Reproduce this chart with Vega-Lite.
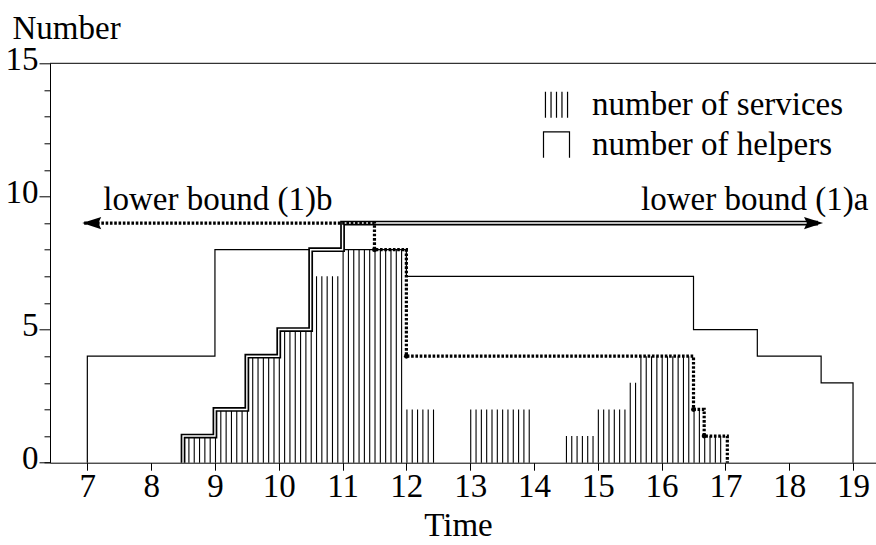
{
  "$schema": "https://vega.github.io/schema/vega-lite/v6.json",
  "width": 826,
  "height": 399.4,
  "autosize": {"type": "none"},
  "padding": {"left": 50, "top": 63.3, "right": 0, "bottom": 82.3},
  "background": "white",
  "config": {
    "view": {"stroke": null},
    "font": "Liberation Serif",
    "axis": {
      "domainColor": "black",
      "domainWidth": 1,
      "tickColor": "black",
      "tickWidth": 1,
      "labelColor": "black",
      "titleColor": "black",
      "labelFont": "Liberation Serif",
      "titleFont": "Liberation Serif",
      "labelFontSize": 33,
      "titleFontSize": 33,
      "titleFontWeight": "normal",
      "labelOverlap": false,
      "grid": false
    }
  },
  "datasets": {
    "services": [
      {"start": 8.5, "end": 9, "count": 1},
      {"start": 9, "end": 9.5, "count": 2},
      {"start": 9.5, "end": 10, "count": 4},
      {"start": 10, "end": 10.5, "count": 5},
      {"start": 10.5, "end": 11, "count": 7},
      {"start": 11, "end": 12, "count": 8},
      {"start": 12, "end": 12.5, "count": 2},
      {"start": 13, "end": 14, "count": 2},
      {"start": 14.5, "end": 15, "count": 1},
      {"start": 15, "end": 15.5, "count": 2},
      {"start": 15.5, "end": 15.667, "count": 3},
      {"start": 15.667, "end": 16.5, "count": 4},
      {"start": 16.5, "end": 16.667, "count": 2},
      {"start": 16.667, "end": 17, "count": 1}
    ],
    "helpers": [
      {"t": 7, "n": 0}, {"t": 7, "n": 4}, {"t": 9, "n": 8}, {"t": 12, "n": 7},
      {"t": 16.5, "n": 5}, {"t": 17.5, "n": 4}, {"t": 18.5, "n": 3}, {"t": 19, "n": 0}
    ],
    "boundA": [
      {"t": 8.5, "n": 0}, {"t": 8.5, "n": 1}, {"t": 9, "n": 2}, {"t": 9.5, "n": 4},
      {"t": 10, "n": 5}, {"t": 10.5, "n": 8}, {"t": 11, "n": 9}, {"t": 18.45, "n": 9}
    ],
    "boundB": [
      {"t": 6.95, "n": 9}, {"t": 11.5, "n": 8}, {"t": 12, "n": 4},
      {"t": 16.5, "n": 2}, {"t": 16.667, "n": 1}, {"t": 17.03, "n": 0}
    ],
    "corners": [
      {"t": 11.5, "n": 8}, {"t": 12, "n": 4}, {"t": 16.5, "n": 2}, {"t": 16.667, "n": 1}
    ],
    "arrowA": [{"t": 18.53, "n": 9}],
    "arrowB": [{"t": 6.92, "n": 9}],
    "labelA": [{"t": 19.24, "n": 9.48, "label": "lower bound (1)a"}],
    "labelB": [{"t": 7.25, "n": 9.48, "label": "lower bound (1)b"}],
    "series": [{"series": "number of services"}, {"series": "number of helpers"}],
    "top": [{"n": 15}]
  },
  "resolve": {"scale": {"y": "independent"}},
  "layer": [
    {
      "data": {"name": "services"},
      "mark": {"type": "rule", "color": "black", "strokeDash": [1.1, 4.218], "strokeCap": "butt"},
      "encoding": {
        "x": {
          "field": "start", "type": "quantitative",
          "scale": {"domain": [6.415, 19.36], "nice": false, "zero": false},
          "axis": {
            "values": [7, 8, 9, 10, 11, 12, 13, 14, 15, 16, 17, 18, 19],
            "format": "d",
            "tickSize": 7.5,
            "labelBaseline": "alphabetic",
            "labelPadding": 26,
            "labelFlush": false,
            "labelOverlap": false,
            "title": "Time",
            "titleX": 408,
            "titleY": 72.3,
            "titleAlign": "center",
            "titleBaseline": "alphabetic"
          }
        },
        "x2": {"field": "end"},
        "y": {"field": "count", "type": "quantitative", "scale": {"domain": [0, 30], "nice": false, "zero": true}, "axis": null},
        "strokeWidth": {"field": "count", "type": "quantitative", "scale": {"domain": [0, 15], "range": [0, 399.4], "zero": true}, "legend": null}
      }
    },
    {
      "resolve": {"axis": {"y": "independent"}},
      "layer": [
        {
          "layer": [
            {
              "data": {"name": "helpers"},
              "mark": {"type": "line", "interpolate": "step-after", "color": "black", "strokeWidth": 1.2},
              "encoding": {
                "x": {"field": "t", "type": "quantitative", "scale": {"domain": [6.415, 19.36], "nice": false, "zero": false}},
                "y": {
                  "field": "n", "type": "quantitative",
                  "scale": {"domain": [0, 15], "nice": false, "zero": true},
                  "axis": {
                    "orient": "left",
                    "values": [0, 5, 10, 15],
                    "format": "d",
                    "tickSize": 11,
                    "labelPadding": 1,
                    "labelBaseline": "alphabetic",
                    "labelOffset": 6,
                    "labelOverlap": false,
                    "labelFlush": false,
                    "title": "Number",
                    "titleAngle": 0,
                    "titleAlign": "left",
                    "titleBaseline": "alphabetic",
                    "titleX": -38,
                    "titleY": -25.3
                  }
                }
              }
            },
            {
              "data": {"name": "boundA"},
              "mark": {"type": "line", "interpolate": "step-after", "color": "black", "strokeWidth": 4.8, "strokeJoin": "miter", "strokeCap": "butt"},
              "encoding": {
                "x": {"field": "t", "type": "quantitative"},
                "y": {"field": "n", "type": "quantitative"}
              }
            },
            {
              "data": {"name": "boundA"},
              "mark": {"type": "line", "interpolate": "step-after", "color": "white", "strokeWidth": 1.4, "strokeJoin": "miter", "strokeCap": "butt"},
              "encoding": {
                "x": {"field": "t", "type": "quantitative"},
                "y": {"field": "n", "type": "quantitative"}
              }
            },
            {
              "data": {"name": "boundB"},
              "mark": {"type": "line", "interpolate": "step-after", "color": "black", "strokeWidth": 3.2, "strokeDash": [2.6, 1.7], "strokeCap": "butt"},
              "encoding": {
                "x": {"field": "t", "type": "quantitative"},
                "y": {"field": "n", "type": "quantitative"}
              }
            },
            {
              "data": {"name": "corners"},
              "mark": {"type": "point", "shape": "circle", "filled": true, "color": "black", "size": 24, "opacity": 1},
              "encoding": {
                "x": {"field": "t", "type": "quantitative"},
                "y": {"field": "n", "type": "quantitative"}
              }
            },
            {
              "data": {"name": "arrowA"},
              "mark": {"type": "point", "shape": "M0,0L-2,-0.65L-1.7,0L-2,0.65Z", "filled": true, "color": "black", "size": 361, "opacity": 1},
              "encoding": {
                "x": {"field": "t", "type": "quantitative"},
                "y": {"field": "n", "type": "quantitative"}
              }
            },
            {
              "data": {"name": "arrowB"},
              "mark": {"type": "point", "shape": "M0,0L2,-0.65L1.7,0L2,0.65Z", "filled": true, "color": "black", "size": 361, "opacity": 1},
              "encoding": {
                "x": {"field": "t", "type": "quantitative"},
                "y": {"field": "n", "type": "quantitative"}
              }
            },
            {
              "data": {"name": "labelA"},
              "mark": {"type": "text", "align": "right", "baseline": "alphabetic", "font": "Liberation Serif", "fontSize": 33, "color": "black"},
              "encoding": {
                "x": {"field": "t", "type": "quantitative"},
                "y": {"field": "n", "type": "quantitative"},
                "text": {"field": "label"}
              }
            },
            {
              "data": {"name": "labelB"},
              "mark": {"type": "text", "align": "left", "baseline": "alphabetic", "font": "Liberation Serif", "fontSize": 33, "color": "black"},
              "encoding": {
                "x": {"field": "t", "type": "quantitative"},
                "y": {"field": "n", "type": "quantitative"},
                "text": {"field": "label"}
              }
            },
            {
              "data": {"name": "series"},
              "mark": {"type": "point", "filled": false, "color": "black", "opacity": 0, "size": 676, "strokeWidth": 1.2},
              "encoding": {
                "shape": {
                  "field": "series", "type": "nominal",
                  "scale": {
                    "domain": ["number of services", "number of helpers"],
                    "range": ["M-0.85,-1V1M-0.42,-1V1M0,-1V1M0.42,-1V1M0.85,-1V1", "M-1,1V-1H1V1"]
                  },
                  "legend": {
                    "title": null,
                    "orient": "none",
                    "legendX": 490,
                    "legendY": 25,
                    "padding": 0,
                    "offset": 0,
                    "symbolSize": 676,
                    "symbolOpacity": 1,
                    "symbolStrokeColor": "black",
                    "symbolStrokeWidth": 1.2,
                    "symbolFillColor": "transparent",
                    "labelFont": "Liberation Serif",
                    "labelFontSize": 33,
                    "labelColor": "black",
                    "labelOffset": 19,
                    "rowPadding": 6,
                    "labelLimit": 400
                  }
                }
              }
            }
          ]
        },
        {
          "data": {"name": "top"},
          "mark": {"type": "rule", "color": "black", "strokeWidth": 1},
          "encoding": {
            "y": {
              "field": "n", "type": "quantitative",
              "axis": {
                "orient": "left",
                "values": [0, 1, 2, 3, 4, 6, 7, 8, 9, 11, 12, 13, 14],
                "tickSize": 6,
                "labels": false,
                "domain": false,
                "title": null
              }
            }
          }
        }
      ]
    }
  ]
}
